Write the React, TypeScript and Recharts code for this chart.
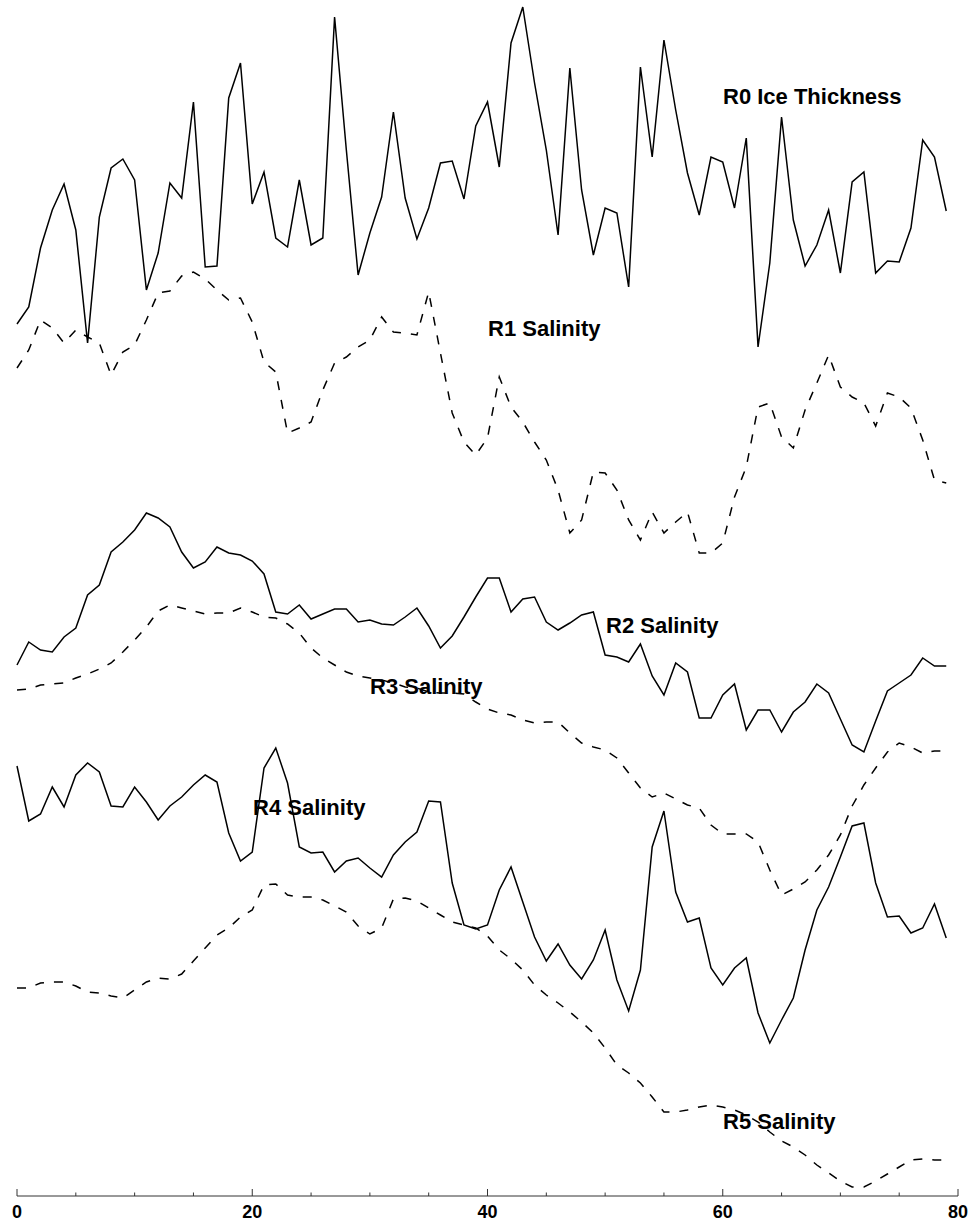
import React from 'react';
import { LineChart, Line, XAxis, YAxis, Customized } from 'recharts';

// Heights above the x-axis (plot units), one value per x = 0..79
const R0_ICE = [
  872, 889, 948, 986, 1012, 966, 853, 979, 1028, 1037,
  1016, 906, 943, 1013, 998, 1094, 929, 930, 1098, 1133,
  992, 1024, 958, 949, 1016, 951, 958, 1179, 1046, 921,
  963, 999, 1084, 998, 957, 988, 1033, 1035, 997, 1070,
  1094, 1029, 1153, 1189, 1113, 1046, 961, 1128, 1006, 941,
  988, 983, 909, 1129, 1039, 1156, 1086, 1023, 981, 1039,
  1034, 988, 1058, 849, 933, 1079, 976, 930, 951, 986,
  923, 1014, 1024, 923, 935, 934, 968, 1056, 1039, 985,
];
const R1_SAL = [
  828, 846, 876, 868, 853, 866, 859, 853, 821, 844,
  851, 876, 903, 905, 920, 924, 917, 906, 896, 898,
  874, 834, 824, 763, 768, 774, 806, 833, 839, 849,
  856, 879, 864, 863, 861, 904, 843, 783, 754, 741,
  758, 819, 789, 774, 754, 736, 706, 663, 676, 724,
  723, 706, 676, 656, 684, 663, 674, 684, 643, 643,
  653, 699, 729, 789, 793, 759, 748, 786, 813, 841,
  809, 799, 793, 770, 803, 799, 788, 756, 716, 713,
];
const R2_SAL = [
  531, 554, 546, 544, 559, 568, 601, 611, 644, 654,
  666, 683, 678, 669, 644, 628, 634, 649, 643, 641,
  635, 622, 584, 582, 591, 577, 582, 587, 587, 574,
  576, 572, 571, 579, 588, 570, 548, 560, 579, 599,
  618, 618, 584, 597, 599, 574, 566, 573, 581, 584,
  541, 539, 534, 552, 520, 501, 533, 524, 478, 478,
  501, 512, 466, 486, 486, 464, 484, 494, 512, 503,
  477, 451, 444, 475, 505, 513, 521, 538, 530, 530,
];
const R3_SAL = [
  506, 507, 511, 512, 513, 518, 522, 527, 533, 544,
  556, 569, 585, 591, 588, 585, 582, 583, 583, 588,
  584, 579, 578, 572, 563, 548, 538, 531, 524, 520,
  518, 516, 513, 509, 508, 504, 503, 503, 502, 494,
  487, 483, 481, 476, 473, 474, 474, 463, 453, 449,
  446, 438, 423, 408, 399, 403, 397, 391, 388, 371,
  362, 362, 362, 354, 326, 301, 307, 314, 326, 341,
  361, 390, 411, 428, 444, 453, 449, 443, 445, 445,
];
const R4_SAL = [
  430, 375, 382, 409, 389, 421, 433, 424, 390, 389,
  409, 394, 376, 390, 399, 411, 421, 414, 363, 335,
  344, 428, 448, 413, 349, 343, 344, 324, 335, 338,
  328, 319, 341, 354, 364, 395, 394, 313, 271, 267,
  271, 306, 329, 294, 259, 235, 252, 231, 217, 236,
  266, 216, 185, 226, 349, 385, 304, 274, 278, 228,
  211, 228, 238, 183, 153, 176, 198, 246, 286, 309,
  339, 370, 373, 313, 279, 280, 263, 268, 292, 258,
];
const R5_SAL = [
  208, 208, 213, 214, 214, 210, 204, 203, 200, 198,
  206, 214, 218, 217, 222, 235, 248, 261, 268, 279,
  286, 311, 312, 301, 299, 299, 296, 290, 284, 270,
  262, 268, 297, 298, 295, 288, 281, 274, 271, 268,
  260, 246, 237, 226, 211, 201, 193, 184, 174, 163,
  148, 131, 123, 113, 99, 84, 84, 86, 89, 91,
  89, 86, 81, 74, 64, 55, 49, 41, 31, 23,
  15, 9, 9, 15, 22, 29, 36, 37, 36, 36,
];

const SERIES_NAMES = ['R0 Ice Thickness', 'R1 Salinity', 'R2 Salinity', 'R3 Salinity', 'R4 Salinity', 'R5 Salinity'];
const MAJOR_TICKS = [0, 20, 40, 60, 80];
const ALL_TICKS = [0, 5, 10, 15, 20, 25, 30, 35, 40, 45, 50, 55, 60, 65, 70, 75, 80];

const data = R0_ICE.map((v, i) => ({
  x: i,
  r0: v,
  r1: R1_SAL[i],
  r2: R2_SAL[i],
  r3: R3_SAL[i],
  r4: R4_SAL[i],
  r5: R5_SAL[i],
}));

const FONT = '"Liberation Sans", Arial, Helvetica, sans-serif';

const AxisTick = (props: any) => {
  const { x, y, payload } = props;
  const major = MAJOR_TICKS.includes(payload.value);
  return (
    <g>
      <line x1={x} x2={x} y1={y} y2={y - (major ? 7 : 3.5)} stroke="#333" strokeWidth={1} />
      {major && (
        <text x={x} y={y + 22} textAnchor="middle" fontFamily={FONT} fontWeight="bold" fontSize={18} fill="#000">
          {payload.value}
        </text>
      )}
    </g>
  );
};

const LABEL_POS = [
  { x: 723, y: 104 },
  { x: 488, y: 336 },
  { x: 606, y: 633 },
  { x: 370, y: 694 },
  { x: 253, y: 815 },
  { x: 723, y: 1129 },
];

const Labels = () => (
  <g>
    {SERIES_NAMES.map((name, i) => (
      <text key={name} x={LABEL_POS[i].x} y={LABEL_POS[i].y} fontFamily={FONT} fontWeight="bold" fontSize={22} fill="#000">
        {name}
      </text>
    ))}
  </g>
);

const KEYS = ['r0', 'r1', 'r2', 'r3', 'r4', 'r5'];
const DASHED = [false, true, false, true, false, true];

export default function App() {
  return (
    <div style={{ position: 'absolute', left: 0, top: 0, background: '#fff' }}>
      <LineChart width={973} height={1224} data={data} margin={{ top: 0, right: 15, left: 17, bottom: 0 }}>
        <XAxis
          dataKey="x"
          type="number"
          domain={[0, 80]}
          ticks={ALL_TICKS}
          interval={0}
          tick={<AxisTick />}
          tickLine={false}
          tickSize={0}
          tickMargin={0}
          height={28}
          axisLine={{ stroke: '#333', strokeWidth: 1 }}
        />
        <YAxis hide type="number" domain={[0, 1196]} />
        {KEYS.map((k, i) => (
          <Line
            key={k}
            dataKey={k}
            name={SERIES_NAMES[i]}
            type="linear"
            stroke="#000"
            strokeWidth={1.5}
            strokeDasharray={DASHED[i] ? '9 10' : undefined}
            dot={false}
            activeDot={false}
            isAnimationActive={false}
          />
        ))}
        <Customized component={Labels} />
      </LineChart>
    </div>
  );
}
